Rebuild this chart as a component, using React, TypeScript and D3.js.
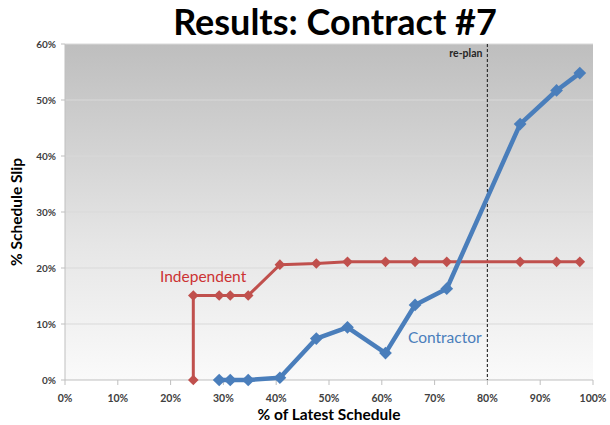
import React from "react";
import * as d3 from "d3";

const W = 610, H = 425;
const margin = { left: 65, right: 17, top: 44, bottom: 45 };

const xTicks = [0, 10, 20, 30, 40, 50, 60, 70, 80, 90, 100];
const yTicks = [0, 10, 20, 30, 40, 50, 60];

const independentX = [24.3, 24.3, 29.2, 31.3, 34.7, 40.7, 47.6, 53.5, 60.7, 66.3, 72.3, 86.2, 93.1, 97.5];
const independentY = [0, 15.1, 15.1, 15.1, 15.1, 20.6, 20.8, 21.1, 21.1, 21.1, 21.1, 21.1, 21.1, 21.1];

const contractorX = [29.2, 31.3, 34.7, 40.7, 47.6, 53.5, 60.7, 66.3, 72.3, 86.2, 93.1, 97.5];
const contractorY = [0, 0, 0, 0.4, 7.4, 9.4, 4.8, 13.4, 16.3, 45.7, 51.7, 54.8];

const replanX = 80;

const FONT = "Lato, 'Open Sans', sans-serif";

export default function App() {
  const x = d3.scaleLinear().domain([0, 100]).range([margin.left, W - margin.right]);
  const y = d3.scaleLinear().domain([0, 60]).range([H - margin.bottom, margin.top]);
  const line = d3.line<[number, number]>().x(d => x(d[0])).y(d => y(d[1]));
  const ind: [number, number][] = independentX.map((v, i) => [v, independentY[i]]);
  const con: [number, number][] = contractorX.map((v, i) => [v, contractorY[i]]);
  const diamond = (s: number) => d3.symbol(d3.symbolSquare, s)();
  const x0 = x(0), x1 = x(100), y0 = y(0), y1 = y(60);
  return (
    <svg width={W} height={H} style={{ position: "absolute", left: 0, top: 0 }}>
      <defs>
        <linearGradient id="bg" x1="0" y1="0" x2="0" y2="1">
          <stop offset="0%" stopColor="#bebebe" />
          <stop offset="60%" stopColor="#e6e6e6" />
          <stop offset="100%" stopColor="#fafafa" />
        </linearGradient>
      </defs>
      <rect x={0} y={0} width={W} height={H} fill="#fff" />
      <text x={335} y={35} textAnchor="middle" fontFamily={FONT} fontWeight="bold" fontSize={36} fill="#000">
        Results: Contract #7
      </text>
      <rect x={x0} y={y1} width={x1 - x0} height={y0 - y1} fill="url(#bg)" />
      {yTicks.map(t => (
        <g key={"y" + t}>
          {t > 0 && <line x1={x0} x2={x1} y1={y(t)} y2={y(t)} stroke="#d9d9d9" strokeWidth={1} />}
          <line x1={x0 - 4} x2={x0} y1={y(t)} y2={y(t)} stroke="#bfbfbf" />
          <text x={x0 - 9} y={y(t) + 3.5} textAnchor="end" fontFamily={FONT} fontWeight="bold" fontSize={10} fill="#404040">
            {t}%
          </text>
        </g>
      ))}
      <line x1={x0} x2={x0} y1={y1} y2={y0} stroke="#bfbfbf" />
      <line x1={x0} x2={x1} y1={y0} y2={y0} stroke="#bfbfbf" />
      {xTicks.map(t => (
        <g key={"x" + t}>
          <line x1={x(t)} x2={x(t)} y1={y0} y2={y0 + 5} stroke="#bfbfbf" />
          <text x={x(t)} y={y0 + 22} textAnchor="middle" fontFamily={FONT} fontWeight="bold" fontSize={10.5} fill="#404040">
            {t}%
          </text>
        </g>
      ))}
      <line x1={x(replanX)} x2={x(replanX)} y1={y1} y2={y0} stroke="#333" strokeWidth={1.2} strokeDasharray="3,2" />
      <text x={x(replanX) - 5} y={y1 + 13} textAnchor="end" fontFamily={FONT} fontWeight="bold" fontSize={10.5} fill="#262626">
        re-plan
      </text>
      <path d={line(ind) || ""} fill="none" stroke="#c0504d" strokeWidth={3} />
      {ind.map((p, i) => (
        <path key={"i" + i} d={diamond(56) || ""} transform={`translate(${x(p[0])},${y(p[1])}) rotate(45)`} fill="#c0504d" />
      ))}
      <path d={line(con) || ""} fill="none" stroke="#4a7ebb" strokeWidth={4.5} strokeLinejoin="round" />
      {con.map((p, i) => (
        <path key={"c" + i} d={diamond(81) || ""} transform={`translate(${x(p[0])},${y(p[1])}) rotate(45)`} fill="#4a7ebb" />
      ))}
      <text x={160} y={282} fontFamily={FONT} fontSize={15.5} fill="#cc3333">Independent</text>
      <text x={408} y={343} fontFamily={FONT} fontSize={15.5} fill="#4a7ebb">Contractor</text>
      <text x={(x0 + x1) / 2} y={420} textAnchor="middle" fontFamily={FONT} fontWeight="bold" fontSize={15.5} fill="#000">
        % of Latest Schedule
      </text>
      <text transform={`translate(22,${(y0 + y1) / 2}) rotate(-90)`} textAnchor="middle" fontFamily={FONT} fontWeight="bold" fontSize={15.5} fill="#000">
        % Schedule Slip
      </text>
    </svg>
  );
}
